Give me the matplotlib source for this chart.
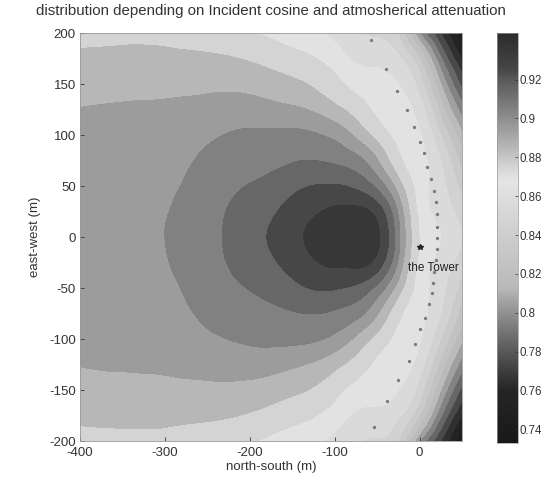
import numpy as np
import matplotlib
matplotlib.use('Agg')
import matplotlib.pyplot as plt
import matplotlib.tri as mtri
from matplotlib.colors import ListedColormap, Normalize
from matplotlib.cm import ScalarMappable

plt.rcParams['font.family'] = ['Liberation Sans', 'DejaVu Sans']
plt.rcParams['axes.unicode_minus'] = False

# ---------------- data ----------------
x_ns = [-400, -350, -300, -250, -200, -150, -100, -75, -50, -25, 0, 25, 50]
y_ew_half = [0, 25, 50, 75, 100, 125, 150, 175, 200]
# efficiency (rows: y_ew_half, columns: x_ns); field is symmetric about y=0
eff_y000 = [.8945, .8970, .9000, .9070, .9160, .9267, .9355, .9355, .9320, .9030, .8695, .8600, .8500]
eff_y025 = [.8941, .8967, .8995, .9063, .9145, .9235, .9318, .9325, .9262, .8984, .8675, .8567, .8438]
eff_y050 = [.8933, .8958, .8980, .9045, .9105, .9173, .9209, .9178, .9073, .8852, .8655, .8533, .8360]
eff_y075 = [.8922, .8945, .8960, .9020, .9057, .9093, .9084, .9038, .8908, .8727, .8632, .8500, .8250]
eff_y100 = [.8912, .8928, .8935, .8982, .9015, .9024, .8973, .8880, .8767, .8673, .8609, .8400, .8117]
eff_y125 = [.8902, .8908, .8910, .8932, .8945, .8918, .8830, .8758, .8677, .8636, .8550, .8259, .7950]
eff_y150 = [.8863, .8873, .8880, .8880, .8869, .8822, .8732, .8667, .8638, .8600, .8450, .8100, .7771]
eff_y175 = [.8818, .8825, .8826, .8818, .8790, .8736, .8652, .8585, .8570, .8517, .8300, .7914, .7593]
eff_y200 = [.8773, .8777, .8774, .8737, .8707, .8652, .8570, .8514, .8483, .8400, .8000, .7700, .7414]

dot_x = [-57, -39, -26, -15, -7, 0, 5, 9, 14, 17, 19, 20, 21, 21, 20, 19, 17, 16, 15,
         11, 6, 1, -5, -13, -25, -38, -54]
dot_y = [193, 165, 143, 125, 108, 93, 82, 69, 57, 45, 34, 23, 10, -1, -12, -23, -34, -45, -55,
         -66, -79, -90, -105, -122, -140, -161, -186]

tower_x = [0]
tower_y = [-10]
tower_label = "the Tower"

cbar_ticks = [0.74, 0.76, 0.78, 0.80, 0.82, 0.84, 0.86, 0.88, 0.90, 0.92]
cbar_ticklabels = ["0.74", "0.76", "0.78", "0.8", "0.82", "0.84", "0.86", "0.88", "0.9", "0.92"]
x_ticks = [-400, -300, -200, -100, 0]
y_ticks = [-200, -150, -100, -50, 0, 50, 100, 150, 200]

# ---------------- build the grid ----------------
rows_half = [eff_y000, eff_y025, eff_y050, eff_y075, eff_y100,
             eff_y125, eff_y150, eff_y175, eff_y200]
y_full = [-v for v in y_ew_half[:0:-1]] + y_ew_half
Z = np.array(rows_half[:0:-1] + rows_half)
X, Y = np.meshgrid(x_ns, y_full)

tri = mtri.Triangulation(X.ravel(), Y.ravel())
interp = mtri.CubicTriInterpolator(tri, Z.ravel(), kind='min_E')
refiner = mtri.UniformTriRefiner(tri)
tri_ref, z_ref = refiner.refine_field(Z.ravel(), triinterpolator=interp, subdiv=5)

# grayscale version of jet (as the printed figure)
jet = plt.get_cmap('jet')(np.linspace(0, 1, 256))
lum = 0.299 * jet[:, 0] + 0.587 * jet[:, 1] + 0.114 * jet[:, 2]
lum = np.clip(0.06 + 0.98 * lum ** 1.15, 0, 1)
cmap = ListedColormap(np.stack([lum, lum, lum, np.ones_like(lum)], axis=1))
norm = Normalize(vmin=0.733, vmax=0.944)

W, H = 548, 486
fig = plt.figure(figsize=(W / 100, H / 100), dpi=100)
ax = fig.add_axes([80 / W, 1 - 441 / H, (462 - 80) / W, (441 - 33) / H])
cax = fig.add_axes([497 / W, 1 - 443 / H, (518 - 497) / W, (443 - 33) / H])

levels = np.round(np.arange(0.73, 0.9451, 0.01), 3)
ax.tricontourf(tri_ref, z_ref, levels=levels, cmap=cmap, norm=norm)

ax.plot(dot_x, dot_y, linestyle='none', marker='o', markersize=2.4,
        color='#7a7a7a', markeredgewidth=0)
ax.plot(tower_x, tower_y, linestyle='none', marker='*', markersize=3.8, color='#222222')
ax.text(tower_x[0] - 14, tower_y[0] - 20, tower_label, fontsize=8.5, color='#222222',
        va='center', ha='left')

ax.set_xlim(-400, 50)
ax.set_ylim(-200, 200)
ax.set_xticks(x_ticks)
ax.set_yticks(y_ticks)
ax.tick_params(direction='in', length=3, width=0.6, labelsize=9.5, colors='#333333')
ax.tick_params(axis='x', pad=4.5)
ax.tick_params(axis='y', pad=3)
for s in ax.spines.values():
    s.set_linewidth(0.6)
    s.set_color('#999999')
ax.set_xlabel('north-south (m)', fontsize=9.5, color='#333333', labelpad=1)
ax.set_ylabel('east-west (m)', fontsize=9.5, color='#333333', labelpad=6)
ax.set_title('distribution depending on Incident cosine and atmosherical attenuation',
             fontsize=10.8, color='#333333', pad=13)

cb = fig.colorbar(ScalarMappable(norm=norm, cmap=cmap), cax=cax)
cb.set_ticks(cbar_ticks)
cb.set_ticklabels(cbar_ticklabels)
cb.ax.tick_params(labelsize=8.3, length=2, width=0.5, direction='in', colors='#333333', pad=1)
cb.outline.set_linewidth(0.5)
cb.outline.set_edgecolor('#999999')

fig.savefig('out.png', dpi=100)
